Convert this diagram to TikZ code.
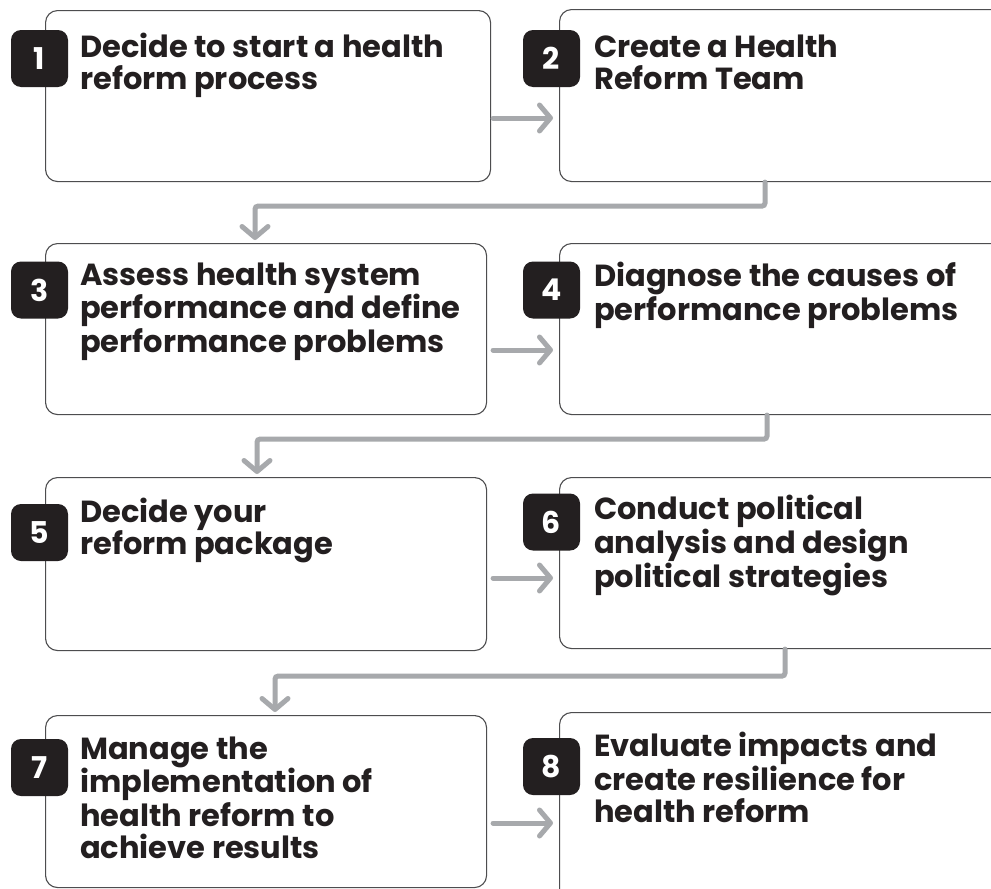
\documentclass[tikz,border=0pt]{standalone}
\usepackage{fontspec}
\setmainfont{Poppins}
\usetikzlibrary{arrows.meta}
\definecolor{ink}{HTML}{231F20}
\definecolor{boxline}{HTML}{4D4D4F}
\definecolor{conncol}{HTML}{A7A9AC}
\begin{document}
\begin{tikzpicture}[x=1pt,y=-1pt,
  stepbox/.style={draw=boxline, line width=1.1pt, rounded corners=12pt, inner sep=0pt, anchor=north west, fill=white},
  badge/.style={fill=ink, rounded corners=10pt, minimum size=57pt, inner sep=0pt, text=white, font=\fontsize{30}{30}\selectfont\bfseries},
  steptext/.style={anchor=base west, align=left, inner sep=0pt, text=ink, font=\fontsize{30.5}{32}\selectfont\bfseries},
  connline/.style={draw=conncol, line width=5pt, rounded corners=3pt, line cap=round, -{Straight Barb[length=11pt, width=26pt, round]}}
]
\useasboundingbox (0,0) rectangle (991,889);
\clip (0,0) rectangle (991,889);
\fill[white] (0,0) rectangle (991,889);
% boxes
\node[stepbox, minimum width=445pt, minimum height=171pt] (b1) at (45,10) {};
\node[stepbox, minimum width=460pt, minimum height=172pt] (b2) at (559,9) {};
\node[stepbox, minimum width=441pt, minimum height=171pt] (b3) at (45,243) {};
\node[stepbox, minimum width=460pt, minimum height=171pt] (b4) at (559,243) {};
\node[stepbox, minimum width=441pt, minimum height=173pt] (b5) at (45,477) {};
\node[stepbox, minimum width=460pt, minimum height=171pt] (b6) at (559,477) {};
\node[stepbox, minimum width=441pt, minimum height=172pt] (b7) at (45,715) {};
\node[stepbox, minimum width=460pt, minimum height=190pt] (b8) at (559,712) {};
% badges
\node[badge] (n1) at (39.5,58.5) {1};
\node[badge] (n2) at (551.5,58.5) {2};
\node[badge] (n3) at (39.5,290) {3};
\node[badge] (n4) at (551.5,290) {4};
\node[badge] (n5) at (39.5,532.5) {5};
\node[badge] (n6) at (551.5,522) {6};
\node[badge] (n7) at (39.5,767.5) {7};
\node[badge] (n8) at (551.5,766.5) {8};
% texts (base anchor = baseline of last line)
\node[steptext] (t1) at (80,89) {Decide to start a health\\reform process};
\node[steptext] (t2) at (594,89) {Create a Health\\Reform Team};
\node[steptext] (t3) at (80,352) {Assess health system\\performance and define\\performance problems};
\node[steptext] (t4) at (594,320) {Diagnose the causes of\\performance problems};
\node[steptext] (t5) at (80,554) {Decide your\\reform package};
\node[steptext] (t6) at (594,587) {Conduct political\\analysis and design\\political strategies};
\node[steptext] (t7) at (80,858) {Manage the\\implementation of\\health reform to\\achieve results};
\node[steptext] (t8) at (594,822) {Evaluate impacts and\\create resilience for\\health reform};
% horizontal arrows
\draw[connline, shorten <=2pt, shorten >=6pt] (b1.east |- 0,118) -- (b2.west |- 0,118);
\draw[connline, shorten <=6pt, shorten >=6pt] (b3.east |- 0,350) -- (b4.west |- 0,350);
\draw[connline, shorten <=6pt, shorten >=6pt] (b5.east |- 0,578) -- (b6.west |- 0,578);
\draw[connline, shorten <=6pt, shorten >=6pt] (b7.east |- 0,823) -- (b8.west |- 0,823);
% row-to-row connectors
\draw[connline, shorten >=3pt] ([xshift=206pt]b2.south west) -- ++(0,24) -| ([xshift=210pt]b3.north west);
\draw[connline, shorten >=3pt] ([xshift=208pt]b4.south west) -- ++(0,24) -| ([xshift=212pt]b5.north west);
\draw[connline, shorten >=3pt] ([xshift=226pt]b6.south west) -- ++(0,27) -| ([xshift=230pt]b7.north west);
\end{tikzpicture}
\end{document}
